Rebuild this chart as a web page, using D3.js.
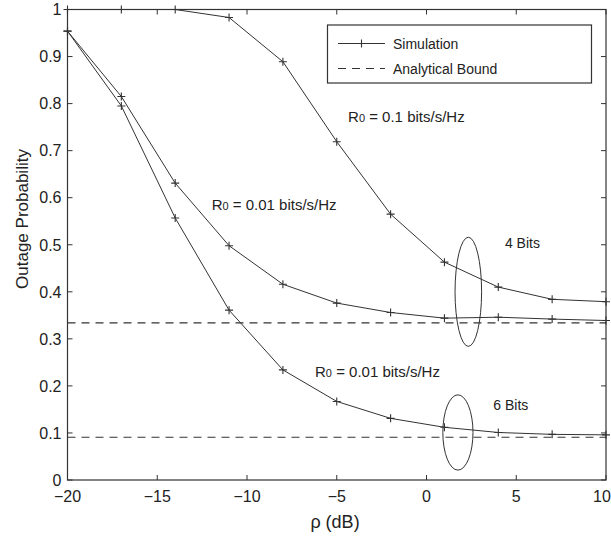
<!DOCTYPE html>
<html>
<head>
<meta charset="utf-8">
<script src="https://cdn.jsdelivr.net/npm/d3@7"></script>
<style>
  body { margin: 0; background: #fff; }
  svg { display: block; font-family: "Liberation Sans", Arial, Helvetica, sans-serif; }
</style>
</head>
<body>
<svg id="chart" width="611" height="539"></svg>
<script>
// SNR points (dB)
const rho = [-20, -17, -14, -11, -8, -5, -2, 1, 4, 7, 10]

// simulated outage probability
const simR01Bits4  = [1.0, 1.0, 1.0, 0.983, 0.889, 0.719, 0.565, 0.463, 0.410, 0.384, 0.379]
const simR001Bits4 = [0.954, 0.815, 0.631, 0.498, 0.416, 0.376, 0.356, 0.344, 0.346, 0.342, 0.339]
const simR001Bits6 = [0.954, 0.795, 0.557, 0.361, 0.234, 0.167, 0.131, 0.112, 0.101, 0.097, 0.096]

// analytical bounds (4 bits, 6 bits)
const bounds = [0.334, 0.091]

const xTicks = [-20, -15, -10, -5, 0, 5, 10]
const yTicks = [0, 0.1, 0.2, 0.3, 0.4, 0.5, 0.6, 0.7, 0.8, 0.9, 1]

// annotations in data units
const notes = [
  { text: "0.1 bits/s/Hz",  x: -4.37, y: 0.772 },
  { text: "0.01 bits/s/Hz", x: -11.97, y: 0.585 },
  { text: "0.01 bits/s/Hz", x: -6.21, y: 0.230 }
]
const bitNotes = [
  { text: "4 Bits", x: 4.37, y: 0.503 },
  { text: "6 Bits", x: 3.72, y: 0.159 }
]
// ellipses: centre and radii in data units
const ellipses = [
  { cx: 2.33, cy: 0.400, rx: 0.74, ry: 0.116 },
  { cx: 1.75, cy: 0.101, rx: 0.84, ry: 0.080 }
]

const ink = "#333"
const svg = d3.select("#chart")
const m = { left: 67.5, right: 606, top: 9.5, bottom: 480 }

const x = d3.scaleLinear().domain([-20, 10]).range([m.left, m.right])
const y = d3.scaleLinear().domain([0, 1]).range([m.bottom, m.top])

// box
svg.append("rect")
   .attr("x", m.left).attr("y", m.top)
   .attr("width", m.right - m.left).attr("height", m.bottom - m.top)
   .attr("fill", "none").attr("stroke", ink).attr("stroke-width", 1.2)

// inward ticks on all four sides
const tl = 5
const tickG = svg.append("g").attr("stroke", ink).attr("stroke-width", 1)
xTicks.forEach(function (t) {
  tickG.append("line").attr("x1", x(t)).attr("x2", x(t)).attr("y1", m.bottom).attr("y2", m.bottom - tl)
  tickG.append("line").attr("x1", x(t)).attr("x2", x(t)).attr("y1", m.top).attr("y2", m.top + tl)
})
yTicks.forEach(function (t) {
  tickG.append("line").attr("x1", m.left).attr("x2", m.left + tl).attr("y1", y(t)).attr("y2", y(t))
  tickG.append("line").attr("x1", m.right).attr("x2", m.right - tl).attr("y1", y(t)).attr("y2", y(t))
})

// tick labels
svg.append("g").selectAll("text").data(xTicks).join("text")
   .attr("x", d => Math.min(x(d), 602)).attr("y", 502)
   .attr("text-anchor", "middle").attr("font-size", 16).attr("fill", "#222")
   .text(d => d3.format("")(d))
svg.append("g").selectAll("text").data(yTicks).join("text")
   .attr("x", m.left - 6).attr("y", d => y(d))
   .attr("dy", "0.36em")
   .attr("text-anchor", "end").attr("font-size", 16).attr("fill", "#222")
   .text(d => d3.format("")(d))

// axis titles
svg.append("text")
   .attr("x", 335).attr("y", 528)
   .attr("text-anchor", "middle").attr("font-size", 18).attr("fill", "#222")
   .text("ρ (dB)")
svg.append("text")
   .attr("transform", "translate(28,219) rotate(-90)")
   .attr("text-anchor", "middle").attr("font-size", 17).attr("fill", "#222")
   .text("Outage Probability")

// dashed bounds
svg.append("g").selectAll("line").data(bounds).join("line")
   .attr("x1", m.left).attr("x2", m.right)
   .attr("y1", d => y(d)).attr("y2", d => y(d))
   .attr("stroke", ink).attr("stroke-width", 1.1)
   .attr("stroke-dasharray", "8,6")

// simulation curves
const line = d3.line().x(d => x(d[0])).y(d => y(d[1]))
const series = [simR01Bits4, simR001Bits4, simR001Bits6]
const plus = function (g, px, py) {
  const s = 4
  g.append("path")
   .attr("d", "M" + (px - s) + "," + py + "H" + (px + s) + "M" + px + "," + (py - s) + "V" + (py + s))
   .attr("stroke", ink).attr("stroke-width", 1.1)
}
series.forEach(function (vals) {
  const pts = rho.map((r, i) => [r, vals[i]])
  svg.append("path").datum(pts)
     .attr("d", line)
     .attr("fill", "none").attr("stroke", ink).attr("stroke-width", 1)
  const g = svg.append("g")
  pts.forEach(p => plus(g, x(p[0]), y(p[1])))
})

// ellipses
svg.append("g").selectAll("ellipse").data(ellipses).join("ellipse")
   .attr("cx", d => x(d.cx)).attr("cy", d => y(d.cy))
   .attr("rx", d => x(d.cx + d.rx) - x(d.cx))
   .attr("ry", d => y(d.cy - d.ry) - y(d.cy))
   .attr("fill", "none").attr("stroke", ink).attr("stroke-width", 1)

// R0 annotations
notes.forEach(function (n) {
  const t = svg.append("text")
     .attr("x", x(n.x)).attr("y", y(n.y)).attr("dy", "0.36em")
     .attr("font-size", 15).attr("fill", "#222")
  t.append("tspan").text("R")
  t.append("tspan").attr("font-size", 11).text("0")
  t.append("tspan").text(" = " + n.text)
})
svg.append("g").selectAll("text").data(bitNotes).join("text")
   .attr("x", d => x(d.x)).attr("y", d => y(d.y)).attr("dy", "0.36em")
   .attr("font-size", 14).attr("fill", "#222")
   .text(d => d.text)

// legend
const lg = svg.append("g")
lg.append("rect")
  .attr("x", 327.5).attr("y", 25).attr("width", 264).attr("height", 58)
  .attr("fill", "#fff").attr("stroke", ink).attr("stroke-width", 1.2)
lg.append("line").attr("x1", 338).attr("x2", 385).attr("y1", 43.5).attr("y2", 43.5)
  .attr("stroke", ink).attr("stroke-width", 1)
plus(lg, 361.5, 43.5)
lg.append("line").attr("x1", 338).attr("x2", 385).attr("y1", 68.5).attr("y2", 68.5)
  .attr("stroke", ink).attr("stroke-width", 1.1).attr("stroke-dasharray", "8,6")
lg.append("text").attr("x", 393).attr("y", 43.5).attr("dy", "0.36em")
  .attr("font-size", 14).attr("fill", "#222").text("Simulation")
lg.append("text").attr("x", 393).attr("y", 68.5).attr("dy", "0.36em")
  .attr("font-size", 14).attr("fill", "#222").text("Analytical Bound")
</script>
</body>
</html>
